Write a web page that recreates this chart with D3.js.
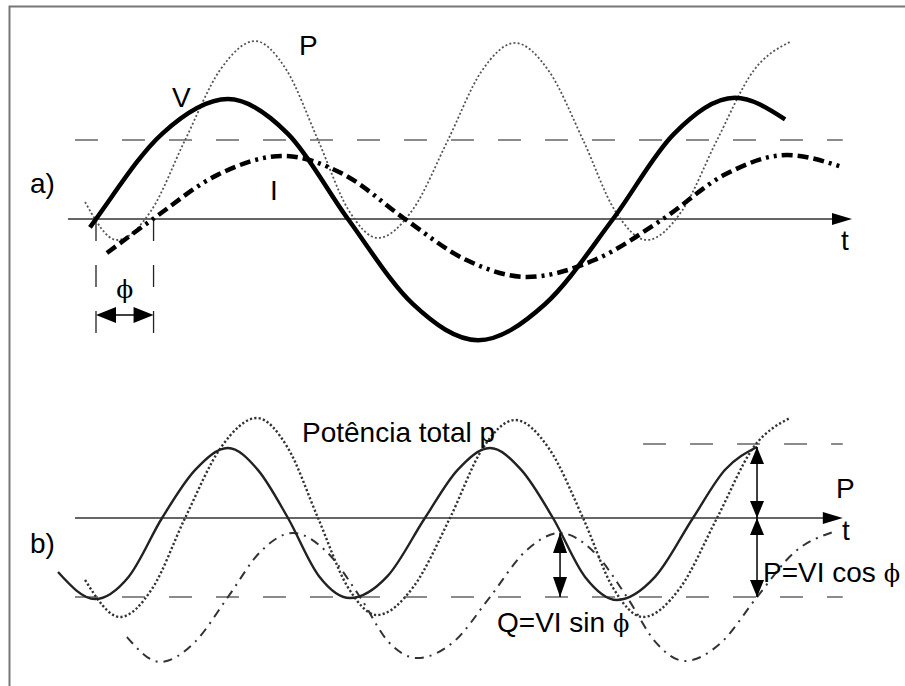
<!DOCTYPE html>
<html>
<head>
<meta charset="utf-8">
<script src="https://cdn.jsdelivr.net/npm/d3@7/dist/d3.min.js"></script>
<style>
  html, body { margin: 0; padding: 0; background: #fff; }
  svg { display: block; }
  text { font-family: "Liberation Sans", Arial, sans-serif; font-size: 28px; fill: #000; }
  .greek { font-family: "DejaVu Serif", "Liberation Serif", serif; }
</style>
</head>
<body>
<svg id="chart" width="905" height="686"></svg>
<script>
// Samples are [ωt in degrees, instantaneous value].

// a) voltage, current and their product
const voltageA = [[-4.2, -0.07], [0, 0], [45.9, 0.71], [91.7, 1.0], [133.4, 0.71], [175.1, 0],
  [220.3, -0.71], [265.5, -1.01], [312.0, -0.71], [359.3, 0], [401.7, 0.71], [444.1, 1.01], [478.9, 0.83]];
const currentA = [[7.6, -0.283], [39.6, 0], [84.8, 0.37], [130.0, 0.525], [172.4, 0.37], [214.7, 0],
  [257.1, -0.34], [299.5, -0.483], [346.8, -0.34], [394.0, 0], [437.1, 0.37], [480.2, 0.533], [518.4, 0.433]];
const powerA = [[-7.6, 0.142], [14.6, -0.175], [38.3, 0.069], [61.9, 0.658], [86.2, 1.241], [110.5, 1.483],
  [132.4, 1.241], [154.3, 0.658], [175.2, 0.081], [196.0, -0.158], [220.3, 0.081], [244.6, 0.658],
  [267.9, 1.230], [291.2, 1.467], [314.9, 1.230], [338.5, 0.658], [360.7, 0.069], [382.9, -0.175],
  [407.3, 0.069], [431.6, 0.658], [457.0, 1.236], [482.3, 1.475]];
const meanPowerA = 0.658;
const phaseDeg = 40;

// b) decomposition of the total power
const activeB = [[-26.4, -0.706], [-0.7, -1.059], [22.6, -0.77], [45.9, 0], [68.8, 0.626], [91.7, 0.915],
  [112.6, 0.626], [133.4, 0], [155.0, -0.76], [176.5, -1.046], [202.6, -0.76], [228.6, 0], [251.2, 0.626],
  [273.8, 0.915], [295.7, 0.626], [317.6, 0], [339.9, -0.77], [362.1, -1.072], [388.5, -0.77], [414.9, 0],
  [437.2, 0.63], [459.4, 0.928]];
const totalB = [[-7.6, -0.81], [16.7, -1.294], [39.3, -0.915], [61.9, 0], [86.9, 0.924], [111.9, 1.307],
  [133.1, 0.924], [154.3, 0], [174.8, -0.897], [195.3, -1.268], [220.7, -0.897], [246.0, 0], [268.6, 0.906],
  [291.2, 1.281], [314.9, 0.906], [338.5, 0], [359.4, -0.915], [380.2, -1.294], [405.9, -0.915], [431.6, 0],
  [457.0, 0.924], [482.3, 1.307]];
const reactiveB = [[21.5, -1.556], [44.5, -1.882], [68.1, -1.633], [91.7, -1.033], [114.3, -0.44], [136.9, -0.196],
  [160.2, -0.44], [183.5, -1.033], [203.3, -1.62], [223.1, -1.83], [248.5, -1.62], [273.8, -1.033],
  [298.2, -0.44], [322.5, -0.196], [345.8, -0.44], [369.0, -1.033], [389.2, -1.63], [409.3, -1.869],
  [434.4, -1.63], [459.4, -1.033], [485.8, -0.44], [512.2, -0.183]];
const levelsB = { top: 0.967, bottom: -1.033 };
const arrowP = { at: 459.4, top: 0.928 };
const arrowQ = { at: 322.5, top: -0.196 };

const labels = {
  a: "a)", b: "b)", t: "t", V: "V", I: "I", P: "P",
  total: "Potência total p", q: "Q=VI sin ", p: "P=VI cos ", phi: "\u03D5"
};

const svg = d3.select("#chart");

const x = d3.scaleLinear().domain([0, 360]).range([96, 614]);
const yA = d3.scaleLinear().domain([-1, 1]).range([339, 99]);
const yB = d3.scaleLinear().domain([-1, 1]).range([594.5, 441.5]);

// frame
svg.append("path").attr("d", "M9.5,686V6.5H905")
  .attr("fill", "none").attr("stroke", "#777").attr("stroke-width", 2);

function wave(data, ys, stroke, width, dash) {
  const line = d3.line().x(d => x(d[0])).y(d => ys(d[1])).curve(d3.curveMonotoneX);
  const p = svg.append("path").datum(data).attr("d", line)
    .attr("fill", "none").attr("stroke", stroke).attr("stroke-width", width);
  if (dash) p.attr("stroke-dasharray", dash);
  return p;
}

function hline(x0, x1, yPix, stroke, width, dash) {
  const l = svg.append("line").attr("x1", x0).attr("x2", x1).attr("y1", yPix).attr("y2", yPix)
    .attr("stroke", stroke).attr("stroke-width", width);
  if (dash) l.attr("stroke-dasharray", dash);
  return l;
}

// filled arrowhead with its tip at (tx, ty)
function head(tx, ty, dir, len, half) {
  let pts;
  if (dir === "right") pts = [[tx, ty], [tx - len, ty - half], [tx - len, ty + half]];
  if (dir === "left") pts = [[tx, ty], [tx + len, ty - half], [tx + len, ty + half]];
  if (dir === "up") pts = [[tx, ty], [tx - half, ty + len], [tx + half, ty + len]];
  if (dir === "down") pts = [[tx, ty], [tx - half, ty - len], [tx + half, ty - len]];
  svg.append("path").attr("d", "M" + pts.join("L") + "Z").attr("fill", "#000");
}

function axis(x0, x1, yPix) {
  hline(x0, x1 - 10, yPix, "#333", 1.5);
  head(x1, yPix, "right", 20, 6);
}

const dashRef = "23,24";

// ---------- a) ----------
hline(x(-14.6), x(519), yA(meanPowerA), "#666", 1.5, dashRef);
axis(x(-19.5), x(525.4), yA(0));

// phase markers
[0, phaseDeg].forEach(d => {
  svg.append("line").attr("x1", x(d)).attr("x2", x(d)).attr("y1", yA(0)).attr("y2", yA(-0.95))
    .attr("stroke", "#222").attr("stroke-width", 1.3).attr("stroke-dasharray", "22,24");
});
const phiY = yA(-0.8);
svg.append("line").attr("x1", x(0) + 10).attr("x2", x(phaseDeg) - 10).attr("y1", phiY).attr("y2", phiY)
  .attr("stroke", "#000").attr("stroke-width", 1.3);
head(x(0), phiY, "left", 20, 8);
head(x(phaseDeg), phiY, "right", 20, 8);
svg.append("text").attr("class", "greek").attr("x", (x(0) + x(phaseDeg)) / 2).attr("y", 298)
  .attr("text-anchor", "middle").style("font-size", "25px").text(labels.phi);

wave(powerA, yA, "#555", 1.8, "2,2.2");
wave(voltageA, yA, "#000", 4.5);
wave(currentA, yA, "#000", 4.5, "11,5,11,5,11,5,3,5,3,5");

svg.append("text").attr("x", 30).attr("y", 193).text(labels.a);
svg.append("text").attr("x", 172).attr("y", 107).text(labels.V);
svg.append("text").attr("x", 299).attr("y", 55).text(labels.P);
svg.append("text").attr("x", 270).attr("y", 200).text(labels.I);
svg.append("text").attr("x", 841).attr("y", 250).text(labels.t);

// ---------- b) ----------
hline(x(380.2), x(519), yB(levelsB.top), "#666", 1.5, dashRef);
hline(x(-14.6), x(519), yB(levelsB.bottom), "#666", 1.5, dashRef);
axis(x(-14.6), x(519), yB(0));

wave(reactiveB, yB, "#333", 2, "9,6,2,6");
wave(totalB, yB, "#333", 2.4, "2.2,2.2");
wave(activeB, yB, "#222", 2.4);

// P = VI cos φ arrows
const px = x(arrowP.at);
svg.append("line").attr("x1", px).attr("x2", px).attr("y1", yB(arrowP.top)).attr("y2", yB(levelsB.bottom))
  .attr("stroke", "#000").attr("stroke-width", 1.5);
head(px, yB(arrowP.top), "up", 17, 7);
head(px, yB(0), "down", 17, 7);
head(px, yB(0), "up", 17, 7);
head(px, yB(levelsB.bottom), "down", 17, 7);

// Q = VI sin φ arrow
const qx = x(arrowQ.at);
svg.append("line").attr("x1", qx).attr("x2", qx).attr("y1", yB(arrowQ.top)).attr("y2", yB(levelsB.bottom))
  .attr("stroke", "#000").attr("stroke-width", 1.5);
head(qx, yB(arrowQ.top), "up", 20, 7);
head(qx, yB(levelsB.bottom), "down", 20, 7);

svg.append("text").attr("x", 30).attr("y", 553).text(labels.b);
svg.append("text").attr("x", 302).attr("y", 442).text(labels.total);
svg.append("text").attr("x", 836).attr("y", 498).text(labels.P);
svg.append("text").attr("x", 842).attr("y", 540).text(labels.t);

const tq = svg.append("text").attr("x", 497).attr("y", 632).text(labels.q);
tq.append("tspan").attr("class", "greek").style("font-size", "24px").text(labels.phi);
const tp = svg.append("text").attr("x", 763).attr("y", 582).text(labels.p);
tp.append("tspan").attr("class", "greek").style("font-size", "24px").text(labels.phi);
</script>
</body>
</html>
